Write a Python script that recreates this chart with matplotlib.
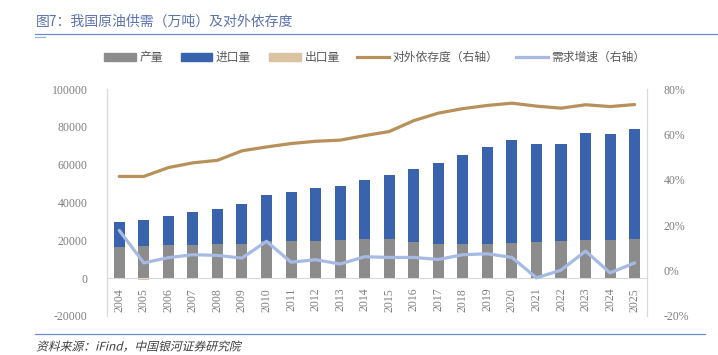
import matplotlib
matplotlib.use('Agg')
import matplotlib.pyplot as plt
from matplotlib.patches import Patch, PathPatch
from matplotlib.lines import Line2D
from matplotlib.textpath import TextPath
from matplotlib.font_manager import FontProperties
from matplotlib.transforms import Affine2D

plt.rcParams['font.family'] = ['Noto Sans CJK SC', 'DejaVu Sans']

years = [str(y) for y in range(2004, 2026)]
production = [16400, 17140, 17460, 17670, 17990, 18000, 19420, 19420, 19790, 20100, 20480,
              20630, 19050, 18200, 18000, 18200, 18520, 18890, 19580, 19950, 20320, 20630]
total_supply = [29470, 30530, 32640, 34760, 36500, 39000, 43750, 45340, 47460, 48880, 51690,
                54700, 57670, 60680, 64920, 69520, 73220, 70740, 70900, 76930, 76190, 79040]
imports = [t - p for t, p in zip(total_supply, production)]
exports = [-550, -800, -630, -390, -420, -500, -300, -250, -240, -160, -60,
           -290, -290, -490, -260, -80, -160, -260, -200, -200, -100, -100]
dependence = [41.5, 41.5, 45.4, 47.5, 48.6, 52.8, 54.5, 56.0, 57.0, 57.5, 59.5,
              61.3, 66.1, 69.4, 71.4, 72.8, 73.8, 72.5, 71.6, 73.1, 72.3, 73.2]
demand_growth = [17.7, 3.4, 5.7, 7.0, 6.7, 5.5, 12.9, 3.7, 4.8, 2.9, 6.1,
                 5.8, 5.8, 4.9, 7.0, 7.4, 5.8, -3.2, 0.2, 8.6, -1.0, 3.4]

c_prod = '#8c8c8c'
c_imp = '#3a63ad'
c_exp = '#d9c3a0'
c_dep = '#b8905a'
c_dem = '#a6bbe4'
c_tick = '#7f7f7f'
num_font = 'Liberation Serif'

fig = plt.figure(figsize=(7.18, 3.55), dpi=100)
ax = fig.add_axes([0.149, 0.110, 0.752, 0.639])
ax2 = ax.twinx()

# spine positions first (set_position resets ticks)
for a in (ax, ax2):
    a.spines['top'].set_visible(False)
for s in ('left', 'right'):
    ax.spines[s].set_color('#d9d9d9')
    ax2.spines[s].set_color('#d9d9d9')
ax.spines['bottom'].set_position(('data', 0))
ax.spines['bottom'].set_color('#d9d9d9')
ax2.spines['bottom'].set_visible(False)

x = list(range(len(years)))
w = 0.45
ax.bar(x, production, w, color=c_prod, zorder=2)
ax.bar(x, imports, w, bottom=production, color=c_imp, zorder=2)
ax.bar(x, exports, w, color=c_exp, zorder=2)

ax2.plot(x, [d / 100 for d in dependence], color=c_dep, lw=2.3, solid_capstyle='round')
ax2.plot(x, [d / 100 for d in demand_growth], color=c_dem, lw=2.3, solid_capstyle='round')

ax.set_xlim(-0.5, len(years) - 0.5)
ax.set_ylim(-20000, 100000)
ax.set_yticks(range(-20000, 100001, 20000))
ax.set_yticklabels([str(v) for v in range(-20000, 100001, 20000)],
                   fontfamily=num_font, fontsize=8.5, color=c_tick)
ax2.set_ylim(-0.2, 0.8)
ax2.set_yticks([-0.2, 0, 0.2, 0.4, 0.6, 0.8])
ax2.set_yticklabels(['-20%', '0%', '20%', '40%', '60%', '80%'],
                    fontfamily=num_font, fontsize=8.5, color=c_tick)

ax.set_xticks(x)
ax.set_xticklabels(years, rotation=90, fontfamily=num_font, fontsize=8.5, color=c_tick)
ax.tick_params(axis='x', length=0, pad=7)
ax.tick_params(axis='y', length=0, pad=14)
ax2.tick_params(axis='y', length=0, pad=12)

# legend
handles = [Patch(color=c_prod), Patch(color=c_imp), Patch(color=c_exp),
           Line2D([], [], color=c_dep, lw=2.3), Line2D([], [], color=c_dem, lw=2.3)]
labels = ['产量', '进口量', '出口量', '对外依存度（右轴）', '需求增速（右轴）']
fig.legend(handles, labels, loc='center', bbox_to_anchor=(0.522, 0.838), ncol=5,
           frameon=False, fontsize=8.5, handlelength=2.7, handleheight=0.7,
           handletextpad=0.3, columnspacing=1.5, labelcolor='#595959')

# title, rules and source
fig.text(0.050, 0.938, '图7：我国原油供需（万吨）及对外依存度', fontsize=10,
         color='#5a72ae', va='center', ha='left')
fig.add_artist(Line2D([0.049, 1.0], [0.904, 0.904], color='#6f8ccc', lw=0.9))
fig.add_artist(Line2D([0.049, 0.062], [0.897, 0.897], color='#9fb2dc', lw=0.9))
fig.add_artist(Line2D([0.049, 0.982], [0.059, 0.059], color='#6f8ccc', lw=0.9))

# italic source line: slanted text path
src = TextPath((0, 0), '资料来源：iFind，中国银河证券研究院', size=8.5,
               prop=FontProperties(family='Noto Sans CJK SC'))
slant = (Affine2D().skew_deg(14, 0).scale(1 / 72)
         + Affine2D().translate(0.36, 0.045) + fig.dpi_scale_trans)
fig.add_artist(PathPatch(src, transform=slant, facecolor='#404040', edgecolor='none', lw=0))

fig.savefig('out.png', dpi=100)
